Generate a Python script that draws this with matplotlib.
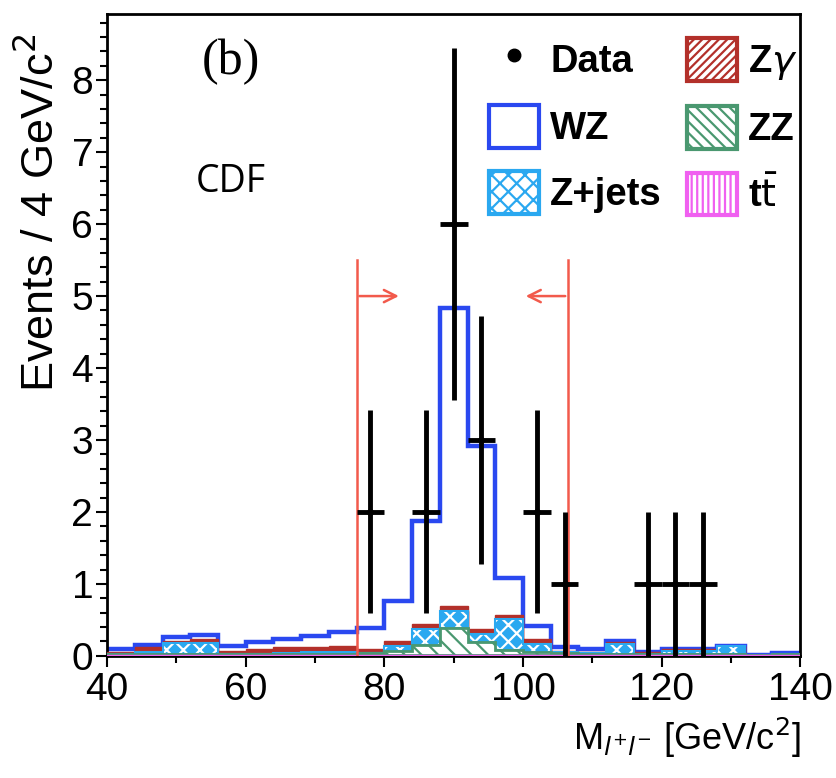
import numpy as np
import matplotlib.pyplot as plt
from matplotlib.patches import Patch
from matplotlib.lines import Line2D

plt.rcParams['font.family'] = ['Liberation Sans', 'DejaVu Sans']
plt.rcParams['hatch.linewidth'] = 1.6

# 4 GeV bins from 40 to 140
edges = np.arange(40, 141, 4)

# per-bin expectations
ttbar = [0.015, 0.015, 0.015, 0.015, 0.015, 0.015, 0.015, 0.015, 0.015, 0.015, 0.015, 0.015, 0.015,
         0.015, 0.015, 0.015, 0.015, 0.015, 0.015, 0.015, 0.015, 0.015, 0.015, 0.01, 0.015]
zz = [0.005, 0.01, 0.01, 0.01, 0.01, 0.01, 0.01, 0.01, 0.01, 0.02, 0.05, 0.13, 0.37,
      0.18, 0.06, 0.04, 0.02, 0.01, 0.01, 0.01, 0.01, 0.01, 0.01, 0.0, 0.005]
zjets = [0.01, 0.035, 0.155, 0.155, 0.005, 0.005, 0.015, 0.035, 0.035, 0.005, 0.075, 0.225, 0.235,
         0.115, 0.435, 0.105, 0.015, 0.015, 0.135, 0.005, 0.045, 0.045, 0.105, 0.0, 0.0]
zgamma = [0.02, 0.06, 0.03, 0.05, 0.04, 0.06, 0.08, 0.06, 0.07, 0.05, 0.07, 0.07, 0.07,
          0.06, 0.06, 0.08, 0.02, 0.02, 0.03, 0.03, 0.02, 0.02, 0.0, 0.0, 0.01]
wz = [0.05, 0.03, 0.05, 0.06, 0.07, 0.10, 0.12, 0.16, 0.20, 0.30, 0.55, 1.44, 4.15,
      2.55, 0.51, 0.18, 0.05, 0.04, 0.01, 0.0, 0.0, 0.0, 0.0, 0.0, 0.01]

# observed events
data_x = [78, 86, 90, 94, 102, 106, 118, 122, 126]
data_n = [2, 2, 6, 3, 2, 1, 1, 1, 1]
data_err = [1.41, 1.41, 2.45, 1.73, 1.41, 1.0, 1.0, 1.0, 1.0]

# mass window cut
cut_lo = 76
cut_hi = 106.5

wz_col = '#2a48f0'
zg_col = '#b3302a'
zz_col = '#4a9870'
zj_col = '#2aa8f0'
tt_col = '#f060f0'
cut_col = '#f25a4c'

c_tt = np.array(ttbar)
c_zz = c_tt + np.array(zz)
c_zj = c_zz + np.array(zjets)
c_zg = c_zj + np.array(zgamma)
c_wz = c_zg + np.array(wz)

fig = plt.figure(figsize=(8.37, 7.78), dpi=100)
ax = fig.add_axes([0.128, 0.157, 0.828, 0.825])

ax.stairs(c_wz, edges, baseline=None, color=wz_col, lw=3.2, zorder=2)
ax.stairs(c_zg, edges, baseline=c_zj, fill=True, facecolor=zg_col, edgecolor=zg_col, lw=1, zorder=3)
ax.stairs(c_zj, edges, baseline=c_zz, fill=True, facecolor=zj_col, edgecolor='white', hatch='xx', lw=0, zorder=3)
ax.stairs(c_zj, edges, baseline=c_zz, color=zj_col, lw=1.5, zorder=3)
ax.stairs(c_zz, edges, baseline=c_tt, fill=True, facecolor='white', edgecolor=zz_col, hatch='\\\\', lw=2, zorder=3)
ax.stairs(c_tt, edges, baseline=0, fill=True, facecolor=tt_col, edgecolor=tt_col, lw=1, zorder=3)

# cut lines and arrows
ax.plot([cut_lo, cut_lo], [0, 5.5], color=cut_col, lw=1.8, zorder=4)
ax.plot([cut_hi, cut_hi], [0, 5.5], color=cut_col, lw=1.8, zorder=4)
ax.annotate('', xy=(cut_lo + 6.5, 5.0), xytext=(cut_lo, 5.0),
            arrowprops=dict(arrowstyle='->', color=cut_col, lw=1.8, mutation_scale=22), zorder=4)
ax.annotate('', xy=(cut_hi - 6.5, 5.0), xytext=(cut_hi, 5.0),
            arrowprops=dict(arrowstyle='->', color=cut_col, lw=1.8, mutation_scale=22), zorder=4)

ax.errorbar(data_x, data_n, yerr=data_err, xerr=2, fmt='o', color='black', ms=4,
            elinewidth=3.5, capsize=0, zorder=5)

ax.set_xlim(40, 140)
ax.set_ylim(0, 8.92)
ax.set_xticks([40, 60, 80, 100, 120, 140])
ax.set_xticks(np.arange(50, 140, 20), minor=True)
ax.set_yticks(range(0, 9))
ax.set_yticks(np.arange(0, 8.95, 0.2), minor=True)
ax.tick_params(axis='both', which='major', direction='out', length=8, width=1.5, labelsize=28)
ax.tick_params(axis='y', which='major', pad=2)
ax.tick_params(axis='both', which='minor', direction='out', length=5, width=1.5)
for s in ax.spines.values():
    s.set_linewidth(2)

ax.set_ylabel('Events / 4 GeV/c$^{2}$', fontsize=32.5)
ax.yaxis.set_label_coords(-0.064, 0.69)
ax.set_xlabel('M$_{l^{+}l^{-}}$ [GeV/c$^{2}$]', fontsize=26, loc='right', labelpad=6)

ax.text(57.9, 8.25, '(b)', fontsize=36, family='Liberation Serif', ha='center', va='center')
ax.text(57.9, 6.58, 'CDF', fontsize=27, family='Open Sans', ha='center', va='center')

handles = [
    Line2D([], [], marker='o', color='black', ls='none', ms=9),
    Patch(facecolor='white', edgecolor=wz_col, lw=3),
    Patch(facecolor='white', edgecolor=zj_col, hatch='xx', lw=3),
    Patch(facecolor='white', edgecolor=zg_col, hatch='////', lw=3),
    Patch(facecolor='white', edgecolor=zz_col, hatch='\\\\\\', lw=3),
    Patch(facecolor='white', edgecolor=tt_col, hatch='|||', lw=3),
]
labels = ['Data', 'WZ', 'Z+jets', 'Z$\\gamma$', 'ZZ', 't$\\bar{\\mathrm{t}}$']
ax.legend(handles, labels, ncol=2, loc='upper right', bbox_to_anchor=(1.035, 1.004), frameon=False,
          prop={'weight': 'bold', 'size': 27.5}, handlelength=1.3, handleheight=1.35,
          columnspacing=0.65, labelspacing=0.62, handletextpad=0.3, borderpad=0.2)

fig.savefig('out.png', dpi=100)
